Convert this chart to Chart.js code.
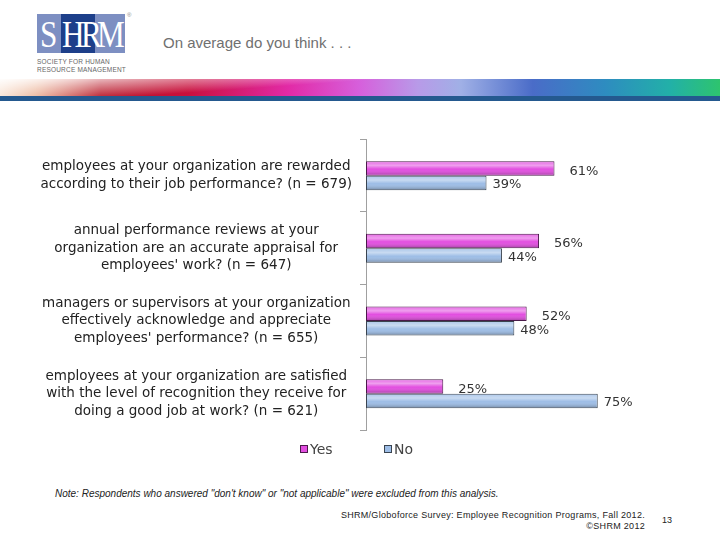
<!DOCTYPE html>
<html>
<head>
<meta charset="utf-8">
<script src="https://cdn.jsdelivr.net/npm/chart.js@4/dist/chart.umd.min.js"></script>
<style>
  html, body { margin: 0; padding: 0; background: #fff; }
  body { width: 720px; height: 540px; position: relative; overflow: hidden; font-family: "Liberation Sans", Arial, sans-serif; }
  .logo { position: absolute; left: 37px; top: 14px; width: 88px; height: 39px; background: #7d8fc2; overflow: hidden; }
  .logo .hr { position: absolute; left: 24px; top: 0; width: 34px; height: 39px; background: #1d3f8a; }
  .logo span { position: absolute; top: 0; color: #fff; font-family: "Liberation Serif", serif; font-size: 38px; line-height: 40px; transform: scaleX(0.82); transform-origin: left top; }
  .reg { position: absolute; left: 127px; top: 12px; font-size: 6px; color: #888; }
  .logo-sub { position: absolute; left: 37px; top: 58px; font-size: 6.5px; line-height: 8px; color: #666; letter-spacing: 0.2px; }
  .title { position: absolute; left: 163px; top: 34px; font-size: 15px; color: #707070; }
  .band { position: absolute; left: 0; top: 79px; width: 720px; height: 17px;
    background: linear-gradient(to right, #f7dcc8 0%, #e9a888 5%, #b81828 14%, #c8103c 26%, #e22aa6 40%, #d660dc 50%, #b89ae8 58%, #a0b0e6 64%, #4a6cc8 74%, #2e8cc0 84%, #22b0a8 93%, #2ec46e 100%); }
  .band-shade { position: absolute; left: 0; top: 79px; width: 720px; height: 17px;
    background: linear-gradient(176deg, rgba(255,255,255,0.95) 0%, rgba(255,255,255,0.5) 18%, rgba(255,255,255,0) 40%); }
  .band-line { position: absolute; left: 0; top: 96px; width: 720px; height: 5px; background: #24598f; }
  #wrap { position: absolute; left: 0; top: 105px; width: 720px; height: 365px; }
  .note { position: absolute; left: 55px; top: 488px; font-size: 10px; font-style: italic; color: #222; }
  .src { position: absolute; right: 75px; top: 510px; font-size: 9px; line-height: 11px; color: #222; text-align: right; letter-spacing: 0.3px; }
  .page { position: absolute; left: 662px; top: 515px; font-size: 9px; color: #222; }
</style>
</head>
<body>
<div class="logo"><span style="left:3px">S</span><div class="hr"></div><span style="left:25px">H</span><span style="left:44px">R</span><span style="left:60px">M</span></div>
<div class="reg">®</div>
<div class="logo-sub">SOCIETY FOR HUMAN<br>RESOURCE MANAGEMENT</div>
<div class="title">On average do you think . . .</div>
<div class="band"></div>
<div class="band-shade"></div>
<div class="band-line"></div>
<div id="wrap"><canvas id="chart"></canvas></div>
<div class="note">Note: Respondents who answered "don't know" or "not applicable" were excluded from this analysis.</div>
<div class="src">SHRM/Globoforce Survey: Employee Recognition Programs, Fall 2012.<br>©SHRM 2012</div>
<div class="page">13</div>

<script>
// data
const questions = [
    ['employees at your organization are rewarded', 'according to their job performance? (n = 679)'],
    ['annual performance reviews at your', 'organization are an accurate appraisal for', "employees' work? (n = 647)"],
    ['managers or supervisors at your organization', 'effectively acknowledge and appreciate', "employees' performance? (n = 655)"],
    ['employees at your organization are satisfied', 'with the level of recognition they receive for', 'doing a good job at work? (n = 621)']
];
const yesValues = [61, 56, 52, 25];
const noValues = [39, 44, 48, 75];
const seriesNames = ['Yes', 'No'];

// shading, value labels and legend
const barLabels = {
    id: 'barLabels',
    afterDatasetsDraw(chart) {
        const ctx = chart.ctx;
        ctx.save();
        chart.data.datasets.forEach((ds, i) => {
            chart.getDatasetMeta(i).data.forEach(bar => {
                const top = bar.y - bar.height / 2;
                const g = ctx.createLinearGradient(0, top, 0, top + bar.height);
                g.addColorStop(0, 'rgba(255,255,255,0.15)');
                g.addColorStop(0.3, 'rgba(255,255,255,0.45)');
                g.addColorStop(0.55, 'rgba(255,255,255,0)');
                g.addColorStop(1, 'rgba(0,0,0,0.3)');
                ctx.fillStyle = g;
                ctx.fillRect(bar.base + 1, top + 1, bar.x - bar.base - 2, bar.height - 2);
            });
        });
        ctx.font = '13px "DejaVu Sans", sans-serif';
        ctx.fillStyle = '#333';
        ctx.textBaseline = 'middle';
        ctx.textAlign = 'left';
        chart.data.datasets.forEach((ds, i) => {
            chart.getDatasetMeta(i).data.forEach((bar, j) => {
                const dx = i === 0 ? 15 : 6;
                const dy = i === 0 ? 3 : 2;
                ctx.fillText(ds.data[j] + '%', bar.x + dx, bar.y + dy);
            });
        });
        // legend
        const cy = chart.chartArea.bottom + 19;
        const items = [{ x: 300 }, { x: 384 }];
        ctx.font = '14px "DejaVu Sans", sans-serif';
        chart.data.datasets.forEach((ds, i) => {
            const x = items[i].x;
            ctx.fillStyle = ds.backgroundColor;
            ctx.fillRect(x, cy - 4, 8, 8);
            ctx.strokeStyle = ds.borderColor;
            ctx.lineWidth = 1;
            ctx.strokeRect(x + 0.5, cy - 3.5, 7, 7);
            ctx.fillStyle = '#444';
            ctx.fillText(ds.label, x + 10, cy + 1);
        });
        ctx.restore();
    }
};

new Chart(document.getElementById('chart'), {
    type: 'bar',
    data: {
        labels: questions,
        datasets: [
            {
                label: seriesNames[0],
                data: yesValues,
                backgroundColor: '#e24ee0',
                borderColor: '#4a1a4a',
                borderWidth: 1,
                borderSkipped: false
            },
            {
                label: seriesNames[1],
                data: noValues,
                backgroundColor: '#9dbde6',
                borderColor: '#3a4450',
                borderWidth: 1,
                borderSkipped: false
            }
        ]
    },
    options: {
        indexAxis: 'y',
        responsive: true,
        maintainAspectRatio: false,
        animation: false,
        categoryPercentage: 0.4,
        barPercentage: 1,
        layout: { padding: { left: 35, right: 45, top: 0, bottom: 40 } },
        plugins: {
            legend: { display: false },
            tooltip: { enabled: false }
        },
        scales: {
            x: {
                display: false,
                min: 0,
                max: 100
            },
            y: {
                afterFit(scale) { scale.width = 331; },
                border: { color: '#a0a0a0', width: 1 },
                grid: { offset: true, drawOnChartArea: false, tickLength: 6, color: '#a0a0a0' },
                ticks: {
                    crossAlign: 'center',
                    padding: 8,
                    color: '#222',
                    font: { family: '"DejaVu Sans", sans-serif', size: 13.5, lineHeight: 1.3 }
                }
            }
        }
    },
    plugins: [barLabels]
});
</script>
</body>
</html>
